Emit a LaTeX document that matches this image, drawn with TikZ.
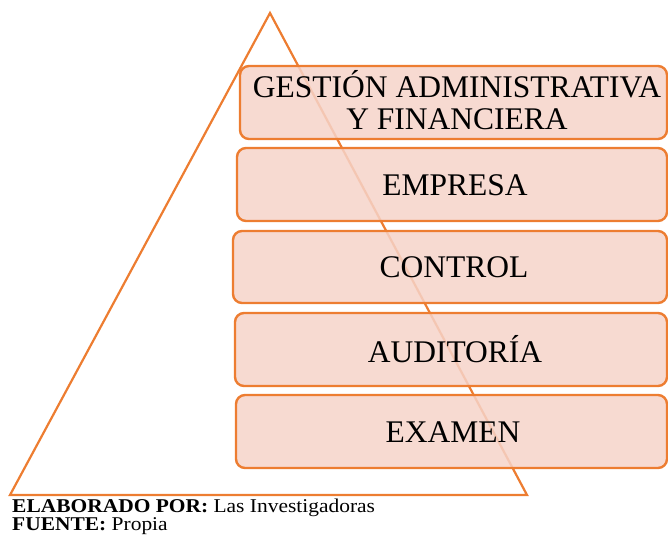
\documentclass[tikz,border=0pt]{standalone}
\usepackage{fontspec}
\setmainfont{Liberation Serif}
\newfontfamily\footfont[FakeStretch=1.1]{Liberation Serif}
\definecolor{orng}{RGB}{237,125,49}
\definecolor{boxfill}{RGB}{246,211,201}
\tikzset{
  tri/.style={draw=orng, line width=2.2pt, line join=miter},
  layer/.style={draw=orng, line width=2.4pt, fill=boxfill, fill opacity=0.85, text opacity=1, rounded corners=9pt},
  lbl/.style={font=\fontsize{31.5}{32}\selectfont, align=center, text=black},
  foot/.style={font=\footfont\fontsize{19.5}{18}\selectfont, anchor=base west, inner sep=0pt, text=black}
}
\begin{document}
\begin{tikzpicture}[x=1pt,y=-1pt]
\useasboundingbox (0,0) rectangle (668,536);
\coordinate (apex) at (270,13);
\coordinate (bl) at (10,495);
\coordinate (br) at (527,495);
\draw[tri] (apex) -- (br) -- (bl) -- cycle;
\path[layer] (240,66) rectangle (667,139);
\path[layer] (237,148) rectangle (667,221);
\path[layer] (233,231) rectangle (667,303);
\path[layer] (235,313) rectangle (667,386);
\path[layer] (236,395) rectangle (667,468);
\node[lbl] (b1) at (457,100) {GESTIÓN ADMINISTRATIVA\\Y FINANCIERA};
\node[lbl] (b2) at (455,185) {EMPRESA};
\node[lbl] (b3) at (454,267) {CONTROL};
\node[lbl] (b4) at (455,349) {AUDITORÍA};
\node[lbl] (b5) at (453,432) {EXAMEN};
\node[foot] (f1) at (12,512) {\textbf{ELABORADO POR:} Las Investigadoras};
\node[foot] (f2) at (12,530) {\textbf{FUENTE:} Propia};
\end{tikzpicture}
\end{document}
